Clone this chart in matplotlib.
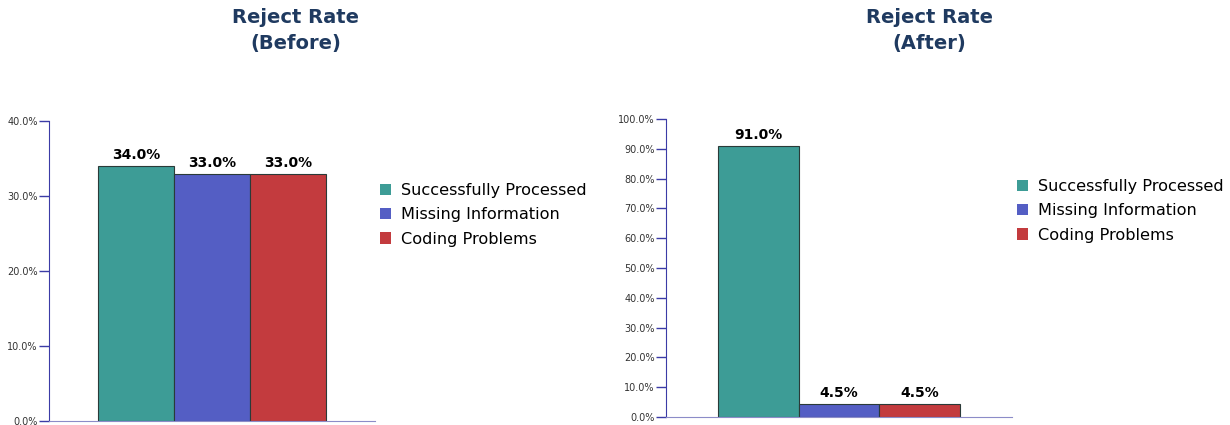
import matplotlib.pyplot as plt
from matplotlib.patches import Patch
from matplotlib.ticker import FuncFormatter

categories = ["Successfully Processed", "Missing Information", "Coding Problems"]
before_vals = [34.0, 33.0, 33.0]
after_vals = [91.0, 4.5, 4.5]
colors = ["#3d9c96", "#545ec4", "#c33b3e"]
title_color = "#1f3a60"
axis_color = "#3b3ba6"

fig = plt.figure(figsize=(12.3, 4.25), dpi=100)
W, H = 1230.0, 425.0


def panel(rect, vals, ymax, ystep, title, title_x, leg_xy):
    x0, top, x1, bottom = rect
    ax = fig.add_axes([x0 / W, (H - bottom) / H, (x1 - x0) / W, (bottom - top) / H])
    bars = ax.bar(range(len(vals)), vals, width=1.0, color=colors,
                  edgecolor="#2a3a38", linewidth=0.8)
    for b, v in zip(bars, vals):
        ax.text(b.get_x() + b.get_width() / 2, v + ymax * 0.012, f"{v:.1f}%",
                ha="center", va="bottom", fontsize=10, fontweight="bold")
    ax.set_ylim(0, ymax)
    ax.set_xlim(-1.14, 3.14)
    ax.set_yticks([i * ystep for i in range(int(ymax / ystep) + 1)])
    ax.yaxis.set_major_formatter(FuncFormatter(lambda v, p: f"{v:.1f}%"))
    ax.set_xticks([])
    for s in ["top", "right"]:
        ax.spines[s].set_visible(False)
    ax.spines["left"].set_color(axis_color)
    ax.spines["bottom"].set_color("#8c8cc8")
    ax.tick_params(axis="y", colors=axis_color, labelcolor="#333333",
                   labelsize=7, length=7, width=1, pad=1)
    fig.text(title_x / W, 1 - 8 / H, title, ha="center", va="top",
             fontsize=14, fontweight="bold", color=title_color, linespacing=1.5)
    handles = [Patch(facecolor=c, edgecolor="none") for c in colors]
    fig.legend(handles, categories, loc="upper left",
               bbox_to_anchor=(leg_xy[0] / W, 1 - leg_xy[1] / H),
               frameon=False, fontsize=11.6, handlelength=0.7, handleheight=0.7,
               handletextpad=0.6, labelspacing=0.58, borderaxespad=0, borderpad=0)
    return ax


panel((49, 121, 375, 421), before_vals, 40, 10, "Reject Rate\n(Before)", 296, (380, 183))
panel((666, 119, 1012, 417), after_vals, 100, 10, "Reject Rate\n(After)", 929, (1017, 179))

fig.savefig("out.png", dpi=100)
